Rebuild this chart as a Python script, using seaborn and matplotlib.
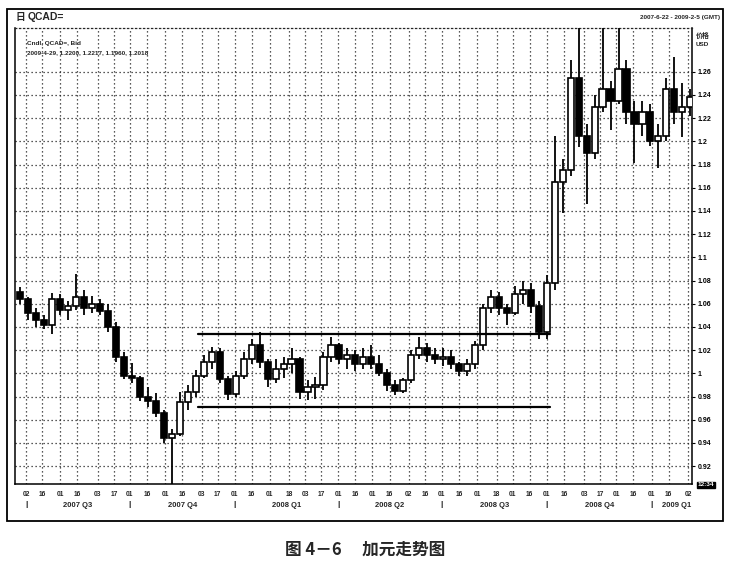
import matplotlib
matplotlib.use("Agg")
import matplotlib.pyplot as plt
import matplotlib.transforms as mtransforms
import matplotlib.patches as mpatches
import seaborn as sns
import pandas as pd

# weekly candles (Monday of each week)
week_start = pd.date_range("2007-06-25", "2009-02-02", freq="W-MON")
open_ = [1.070, 1.064, 1.052, 1.046, 1.042, 1.064, 1.055, 1.058, 1.066, 1.056,
         1.060, 1.054, 1.040, 1.014, 0.998, 0.996, 0.980, 0.976, 0.966, 0.944,
         0.948, 0.975, 0.984, 0.998, 1.010, 1.018, 0.995, 0.982, 0.998, 1.012,
         1.024, 1.010, 0.995, 1.004, 1.008, 1.012, 0.984, 0.988, 0.990, 1.014,
         1.024, 1.012, 1.016, 1.008, 1.014, 1.008, 1.000, 0.990, 0.985, 0.994,
         1.016, 1.022, 1.016, 1.012, 1.014, 1.008, 1.002, 1.008, 1.024, 1.056,
         1.066, 1.056, 1.052, 1.068, 1.072, 1.058, 1.036, 1.078, 1.165, 1.175,
         1.255, 1.205, 1.190, 1.230, 1.245, 1.235, 1.262, 1.225, 1.215, 1.225,
         1.200, 1.205, 1.245, 1.225, 1.230]
high = [1.074, 1.066, 1.056, 1.050, 1.069, 1.068, 1.062, 1.086, 1.072, 1.067,
        1.064, 1.060, 1.044, 1.018, 1.009, 0.998, 0.988, 0.983, 0.968, 0.952,
        0.984, 0.990, 1.003, 1.016, 1.023, 1.022, 0.998, 1.002, 1.018, 1.030,
        1.036, 1.012, 1.012, 1.014, 1.022, 1.014, 0.994, 0.997, 1.018, 1.031,
        1.026, 1.022, 1.020, 1.022, 1.024, 1.016, 1.004, 0.994, 0.996, 1.020,
        1.031, 1.026, 1.022, 1.022, 1.020, 1.010, 1.012, 1.028, 1.060, 1.072,
        1.070, 1.060, 1.075, 1.080, 1.078, 1.062, 1.085, 1.205, 1.185, 1.270,
        1.300, 1.215, 1.240, 1.300, 1.252, 1.300, 1.270, 1.235, 1.235, 1.232,
        1.215, 1.255, 1.273, 1.250, 1.245]
low = [1.060, 1.046, 1.040, 1.038, 1.034, 1.050, 1.046, 1.055, 1.050, 1.052,
       1.050, 1.036, 1.010, 0.995, 0.992, 0.976, 0.971, 0.962, 0.940, 0.905,
       0.946, 0.968, 0.980, 0.996, 1.004, 0.992, 0.977, 0.980, 0.995, 1.008,
       1.005, 0.988, 0.992, 0.996, 1.000, 0.978, 0.977, 0.978, 0.986, 1.010,
       1.008, 1.004, 1.002, 1.004, 1.004, 0.998, 0.985, 0.981, 0.983, 0.992,
       1.012, 1.010, 1.008, 1.006, 1.004, 0.998, 0.998, 1.004, 1.020, 1.052,
       1.050, 1.042, 1.050, 1.060, 1.052, 1.030, 1.030, 1.072, 1.138, 1.170,
       1.195, 1.146, 1.185, 1.225, 1.210, 1.232, 1.215, 1.181, 1.205, 1.196,
       1.177, 1.200, 1.215, 1.204, 1.222]
close = [1.064, 1.052, 1.046, 1.042, 1.064, 1.055, 1.058, 1.066, 1.056, 1.060,
         1.054, 1.040, 1.014, 0.998, 0.996, 0.980, 0.976, 0.966, 0.944, 0.948,
         0.975, 0.984, 0.998, 1.010, 1.018, 0.995, 0.982, 0.998, 1.012, 1.024,
         1.010, 0.995, 1.004, 1.008, 1.012, 0.984, 0.988, 0.990, 1.014, 1.024,
         1.012, 1.016, 1.008, 1.014, 1.008, 1.000, 0.990, 0.985, 0.994, 1.016,
         1.022, 1.016, 1.012, 1.014, 1.008, 1.002, 1.008, 1.024, 1.056, 1.066,
         1.056, 1.052, 1.068, 1.072, 1.058, 1.036, 1.078, 1.165, 1.175, 1.255,
         1.205, 1.190, 1.230, 1.245, 1.235, 1.262, 1.225, 1.215, 1.225, 1.200,
         1.205, 1.245, 1.225, 1.230, 1.238]

# trading range drawn on the chart
range_start = "2007-11-30"
range_end = "2008-10-04"
range_levels = [1.0335, 0.9712]

y_ticks = [0.92, 0.94, 0.96, 0.98, 1.00, 1.02, 1.04, 1.06, 1.08, 1.10,
           1.12, 1.14, 1.16, 1.18, 1.20, 1.22, 1.24, 1.26]
y_labels = ["0.92", "0.94", "0.96", "0.98", "1", "1.02", "1.04", "1.06", "1.08", "1.1",
            "1.12", "1.14", "1.16", "1.18", "1.2", "1.22", "1.24", "1.26"]

tick_dates = ["2007-07-02", "2007-07-16", "2007-08-01", "2007-08-16", "2007-09-03", "2007-09-17",
              "2007-10-01", "2007-10-16", "2007-11-01", "2007-11-16", "2007-12-03", "2007-12-17",
              "2008-01-01", "2008-01-16", "2008-02-01", "2008-02-18", "2008-03-03", "2008-03-17",
              "2008-04-01", "2008-04-16", "2008-05-01", "2008-05-16", "2008-06-02", "2008-06-16",
              "2008-07-01", "2008-07-16", "2008-08-01", "2008-08-18", "2008-09-01", "2008-09-16",
              "2008-10-01", "2008-10-16", "2008-11-03", "2008-11-17", "2008-12-01", "2008-12-16",
              "2009-01-01", "2009-01-16", "2009-02-02"]

quarter_starts = ["2007-07-02", "2007-10-01", "2008-01-01", "2008-04-01",
                  "2008-07-01", "2008-10-01", "2009-01-01"]
quarter_labels = ["2007 Q3", "2007 Q4", "2008 Q1", "2008 Q2", "2008 Q3", "2008 Q4", "2009 Q1"]

x_min = pd.Timestamp("2007-06-22 06:00")
x_max = pd.Timestamp("2009-02-05 12:00")

df = pd.DataFrame({"week": week_start, "open": open_, "high": high,
                   "low": low, "close": close})
df["center"] = df["week"] + pd.Timedelta(days=2)
df["bottom"] = df[["open", "close"]].min(axis=1)
df["body"] = (df["close"] - df["open"]).abs()
df["fill"] = ["white" if c >= o else "black" for o, c in zip(df["open"], df["close"])]

lines = pd.DataFrame({
    "date": pd.to_datetime([range_start, range_end, range_start, range_end]),
    "level": [range_levels[0], range_levels[0], range_levels[1], range_levels[1]],
    "line": ["top", "top", "bottom", "bottom"],
})

sns.set_style("white")
plt.rcParams["font.family"] = ["Liberation Sans", "DejaVu Sans", "Noto Sans CJK SC"]

W, H = 729, 571
fig = plt.figure(figsize=(W / 100, H / 100), dpi=100)
ax = fig.add_axes([15 / W, 1 - 484 / H, (692 - 15) / W, (484 - 28) / H])

# candles
ax.vlines(df["center"], df["low"], df["high"], color="black", lw=1.3, zorder=3)
ax.bar(df["center"], df["body"], bottom=df["bottom"], width=5.4,
       color=df["fill"], edgecolor="black", linewidth=1.2, zorder=4)

sns.lineplot(data=lines, x="date", y="level", units="line", estimator=None,
             color="black", lw=1.6, ax=ax, zorder=5)

ax.set_xlim(x_min, x_max)
ax.set_ylim(0.9046, 1.2977)
ax.set_xlabel("")
ax.set_ylabel("")

ax.yaxis.tick_right()
ax.set_yticks(y_ticks)
ax.set_yticklabels(y_labels, fontsize=5, fontweight="bold")
ax.tick_params(axis="y", length=2.5, width=0.8, pad=1.5, direction="out", colors="black")

tdates = pd.to_datetime(tick_dates)
ax.set_xticks(tdates)
ax.set_xticklabels([d.strftime("%d") for d in tdates], fontsize=4.8, fontweight="bold")
ax.tick_params(axis="x", length=0, pad=5)

ax.grid(True, color="#222222", linestyle=(0, (1, 2.2)), linewidth=0.9)
ax.set_axisbelow(True)
for side in ["left", "right", "bottom"]:
    ax.spines[side].set_visible(True)
    ax.spines[side].set_color("black")
    ax.spines[side].set_linewidth(1.1)
ax.spines["top"].set_linestyle((0, (1, 2.2)))
ax.spines["top"].set_linewidth(0.9)

# quarter row under the day numbers
trans = mtransforms.blended_transform_factory(ax.transData, ax.transAxes)
qs = pd.to_datetime(quarter_starts)
for i, (q, lab) in enumerate(zip(qs, quarter_labels)):
    ax.text(q, -0.046, "|", transform=trans, ha="center", va="center",
            fontsize=6, fontweight="bold")
    q_end = qs[i + 1] if i + 1 < len(qs) else x_max
    mid = q + (q_end - q) / 2
    if i + 1 == len(qs):
        mid = q + pd.Timedelta(days=22)
    ax.text(mid, -0.047, lab, transform=trans, ha="center", va="center",
            fontsize=5.5, fontweight="bold")

# header texts
fig.text(20 / W, 1 - 17 / H, "日", fontsize=7, fontweight="bold", va="center",
         ha="center", family="Noto Sans CJK SC")
fig.text(28 / W, 1 - 17 / H, "QCAD=", fontsize=7.5, fontweight="bold", va="center")
fig.text(720 / W, 1 - 18 / H, "2007-6-22 - 2009-2-5 (GMT)", fontsize=4.6,
         fontweight="bold", va="center", ha="right")
ax.text(27 / W, 1 - 43 / H, "Cndl, QCAD=, Bid", transform=fig.transFigure,
        fontsize=4.6, fontweight="bold", va="center")
ax.text(27 / W, 1 - 53 / H, "2009-4-29, 1.2200, 1.2217, 1.1960, 1.2018",
        transform=fig.transFigure, fontsize=4.6, fontweight="bold", va="center")
fig.text(696 / W, 1 - 35 / H, "价格", fontsize=5, fontweight="bold", va="center",
         family=["Noto Sans CJK SC", "DejaVu Sans"])
fig.text(696 / W, 1 - 45 / H, "USD", fontsize=4.6, fontweight="bold", va="center")
fig.text(706 / W, 1 - 485 / H, "12:34", fontsize=4.6, fontweight="bold", va="center",
         ha="center", color="white",
         bbox=dict(boxstyle="square,pad=0.15", fc="black", ec="black"))

# outer frame
fig.add_artist(mpatches.Rectangle((7 / W, 1 - 521 / H), (723 - 7) / W, (521 - 9) / H,
                                  transform=fig.transFigure, fill=False,
                                  lw=1.3, ec="black"))

fig.text(365 / W, 1 - 550 / H, "图 4－6　 加元走势图", fontsize=12, fontweight="bold",
         ha="center", va="center", family=["Noto Sans CJK SC", "DejaVu Sans"])

fig.savefig("out.png", dpi=100)
